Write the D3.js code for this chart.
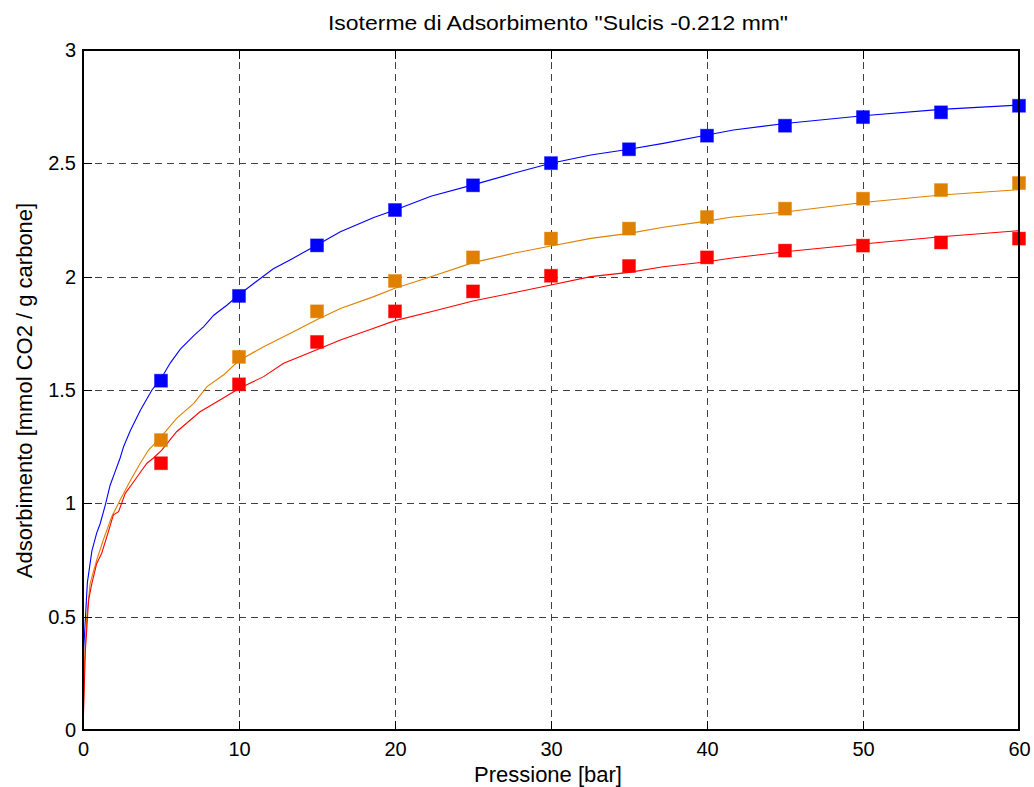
<!DOCTYPE html>
<html>
<head>
<meta charset="utf-8">
<script src="https://cdn.jsdelivr.net/npm/d3@7"></script>
<style>
  html, body { margin: 0; padding: 0; background: #fff; }
  svg { display: block; font-family: "Liberation Sans", Arial, sans-serif; }
</style>
</head>
<body>
<svg id="chart" width="1034" height="787"></svg>
<script>
// Misure sperimentali (pressione in bar, adsorbimento in mmol CO2 / g carbone)
const pressioni = [5, 10, 15, 20, 25, 30, 35, 40, 45, 50, 55, 60];
const misureBlu = [1.541, 1.915, 2.138, 2.294, 2.403, 2.501, 2.562, 2.622, 2.666, 2.704, 2.725, 2.754];
const misureArancio = [1.279, 1.646, 1.847, 1.981, 2.085, 2.168, 2.212, 2.263, 2.300, 2.344, 2.382, 2.413];
const misureRosse = [1.177, 1.525, 1.712, 1.847, 1.935, 2.004, 2.047, 2.085, 2.115, 2.137, 2.151, 2.168];

// Curve di regressione (pressione, adsorbimento)
const curvaBluP = [0, 0.04, 0.28, 0.57, 0.88, 1.1, 1.42, 1.74, 2.06, 2.38, 2.6, 3.03, 3.67, 4.42, 5.0, 5.6, 6.24, 7.1, 7.74, 8.38, 9.24, 10.0, 10.94, 12.2, 13.3, 15.0, 16.5, 18.64, 20, 22.3, 25, 27.6, 30, 32.55, 35, 37.2, 40, 41.7, 45, 50, 55, 60];
const curvaBluQ = [0, 0.35, 0.65, 0.79, 0.87, 0.91, 0.99, 1.08, 1.14, 1.2, 1.25, 1.32, 1.41, 1.5, 1.55, 1.62, 1.68, 1.74, 1.78, 1.83, 1.875, 1.92, 1.97, 2.035, 2.075, 2.14, 2.198, 2.261, 2.294, 2.355, 2.405, 2.456, 2.5, 2.537, 2.562, 2.588, 2.625, 2.647, 2.676, 2.71, 2.738, 2.757];

const curvaArancioP = [0, 0.1, 0.24, 0.46, 0.88, 1.3, 1.84, 2.38, 3.03, 3.67, 4.2, 4.96, 6.0, 7.1, 7.95, 9.0, 10, 11.58, 13.3, 14.95, 16.5, 18.64, 20, 22.3, 25, 27.6, 30, 32.55, 35, 37.2, 40, 41.5, 45, 50, 55, 60];
const curvaArancioQ = [0, 0.3, 0.5, 0.647, 0.75, 0.838, 0.941, 1.015, 1.1, 1.177, 1.235, 1.29, 1.375, 1.441, 1.515, 1.566, 1.63, 1.691, 1.75, 1.809, 1.86, 1.912, 1.949, 2.0, 2.062, 2.103, 2.135, 2.169, 2.191, 2.218, 2.245, 2.262, 2.285, 2.327, 2.36, 2.384];

const curvaRossaP = [0, 0.15, 0.36, 0.57, 0.88, 1.2, 1.53, 1.95, 2.28, 2.71, 3.25, 3.78, 4.1, 4.52, 5.05, 6.0, 7.5, 8.78, 10, 11.58, 12.86, 14.95, 16.5, 18.64, 20, 22.3, 25, 27.6, 30, 32.55, 35, 37.2, 40, 41.5, 45, 50, 55, 60];
const curvaRossaQ = [0, 0.35, 0.574, 0.647, 0.735, 0.78, 0.853, 0.949, 0.963, 1.044, 1.095, 1.147, 1.177, 1.2, 1.235, 1.316, 1.404, 1.456, 1.507, 1.559, 1.618, 1.676, 1.721, 1.772, 1.806, 1.845, 1.893, 1.929, 1.963, 2.0, 2.019, 2.044, 2.066, 2.081, 2.11, 2.144, 2.176, 2.203];

const tickX = [0, 10, 20, 30, 40, 50, 60];
const tickY = [0, 0.5, 1, 1.5, 2, 2.5, 3];

const serie = [
  { colore: "#0000ff", misure: misureBlu, p: curvaBluP, q: curvaBluQ },
  { colore: "#df8000", misure: misureArancio, p: curvaArancioP, q: curvaArancioQ },
  { colore: "#ff0000", misure: misureRosse, p: curvaRossaP, q: curvaRossaQ }
];

const svg = d3.select("#chart");
const area = { left: 83, right: 1019, top: 50, bottom: 730 };

const x = d3.scaleLinear().domain([0, 60]).range([area.left, area.right]);
const y = d3.scaleLinear().domain([0, 3]).range([area.bottom, area.top]);

// Griglia tratteggiata
const griglia = svg.append("g").attr("stroke", "#404040").attr("stroke-width", 1)
  .attr("stroke-dasharray", "7,5").attr("shape-rendering", "crispEdges");
griglia.selectAll("line.gx").data(tickX.slice(1, -1)).join("line")
  .attr("x1", d => Math.round(x(d)) + 0.5).attr("x2", d => Math.round(x(d)) + 0.5)
  .attr("y1", area.top).attr("y2", area.bottom);
griglia.selectAll("line.gy").data(tickY.slice(1, -1)).join("line")
  .attr("y1", d => Math.round(y(d)) + 0.5).attr("y2", d => Math.round(y(d)) + 0.5)
  .attr("x1", area.left).attr("x2", area.right);

// Curve di regressione
const linea = d3.line().x(d => x(d[0])).y(d => y(d[1]));
serie.forEach(s => {
  svg.append("path")
    .datum(s.p.map((v, i) => [v, s.q[i]]))
    .attr("fill", "none").attr("stroke", s.colore).attr("stroke-width", 1.1)
    .attr("d", linea);
});

// Marcatori quadrati dei dati misurati
const lato = 13;
serie.forEach(s => {
  svg.append("g").selectAll("rect").data(pressioni.map((p, i) => [p, s.misure[i]])).join("rect")
    .attr("x", d => x(d[0]) - lato / 2).attr("y", d => y(d[1]) - lato / 2)
    .attr("width", lato).attr("height", lato)
    .attr("fill", s.colore).attr("stroke", s.colore).attr("stroke-opacity", 0.4).attr("stroke-width", 1);
});

// Assi: tacche interne su tutti i lati
const tl = 9;
const assi = svg.append("g").attr("shape-rendering", "crispEdges");
assi.append("g").attr("transform", `translate(0,${area.bottom})`)
  .call(d3.axisBottom(x).tickValues(tickX).tickSizeInner(-tl).tickSizeOuter(0).tickPadding(12).tickFormat(d3.format("d")));
assi.append("g").attr("transform", `translate(0,${area.top})`)
  .call(d3.axisTop(x).tickValues(tickX).tickSizeInner(-tl).tickSizeOuter(0).tickFormat(""));
assi.append("g").attr("transform", `translate(${area.left},0)`)
  .call(d3.axisLeft(y).tickValues(tickY).tickSizeInner(-tl).tickSizeOuter(0).tickPadding(7).tickFormat(d => String(d)));
assi.append("g").attr("transform", `translate(${area.right},0)`)
  .call(d3.axisRight(y).tickValues(tickY).tickSizeInner(-tl).tickSizeOuter(0).tickFormat(""));

assi.selectAll(".domain").attr("stroke", "#000").attr("stroke-width", 1.2);
assi.selectAll(".tick line").attr("stroke", "#000");
assi.selectAll(".tick text").attr("font-size", 20).attr("fill", "#000")
  .attr("font-family", "'Liberation Sans', Arial, sans-serif");

// Cornice
svg.append("rect").attr("x", area.left).attr("y", area.top)
  .attr("width", area.right - area.left).attr("height", area.bottom - area.top)
  .attr("fill", "none").attr("stroke", "#000").attr("stroke-width", 1.2).attr("shape-rendering", "crispEdges");

// Titolo ed etichette
svg.append("text").attr("x", 558).attr("y", 29.5)
  .attr("text-anchor", "middle").attr("font-size", 21)
  .attr("textLength", 460).attr("lengthAdjust", "spacingAndGlyphs")
  .text("Isoterme di Adsorbimento \"Sulcis -0.212 mm\"");
svg.append("text").attr("x", 548).attr("y", 782)
  .attr("text-anchor", "middle").attr("font-size", 22)
  .text("Pressione [bar]");
svg.append("text").attr("transform", `translate(32,390.5) rotate(-90)`)
  .attr("text-anchor", "middle").attr("font-size", 22)
  .text("Adsorbimento [mmol CO2 / g carbone]");
</script>
</body>
</html>
